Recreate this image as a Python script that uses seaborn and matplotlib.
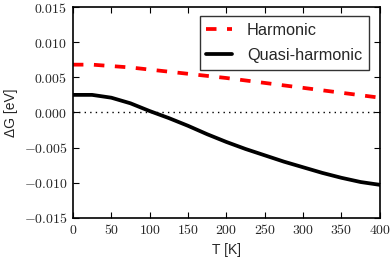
"""Free energy difference vs temperature: harmonic vs quasi-harmonic."""

import matplotlib

matplotlib.use("Agg")
import matplotlib.pyplot as plt
import pandas as pd
import seaborn as sns
from matplotlib.ticker import FuncFormatter

temps = [0, 25, 50, 75, 100, 125, 150, 175, 200, 225, 250, 275, 300, 325, 350, 375, 400]
harmonic = [0.0068, 0.0068, 0.0066, 0.0064, 0.0061, 0.0058, 0.0055, 0.0052, 0.0049,
            0.00455, 0.0042, 0.00385, 0.0035, 0.00315, 0.0028, 0.00245, 0.0021]
quasi_harmonic = [0.0025, 0.0025, 0.0021, 0.0013, 0.0002, -0.0008, -0.0019, -0.0031, -0.0042,
                  -0.0052, -0.0061, -0.0070, -0.0078, -0.0086, -0.0093, -0.0099, -0.0103]
series_names = ["Harmonic", "Quasi-harmonic"]
x_ticks = [0, 50, 100, 150, 200, 250, 300, 350, 400]
y_ticks = [-0.015, -0.010, -0.005, 0.000, 0.005, 0.010, 0.015]

df = pd.DataFrame({"T": temps, series_names[0]: harmonic, series_names[1]: quasi_harmonic})
long_df = df.melt(id_vars="T", var_name="model", value_name="dG")

sns.set_style("ticks")
plt.rcParams["font.family"] = ["Liberation Sans", "DejaVu Sans"]
plt.rcParams["mathtext.fontset"] = "cm"
plt.rcParams["xtick.direction"] = "in"
plt.rcParams["ytick.direction"] = "in"

fig = plt.figure(figsize=(3.92, 2.6), dpi=100)
ax = fig.add_axes([0.186, 0.162, 0.783, 0.811])

ax.axhline(0, color="black", linestyle=(0, (1, 3)), linewidth=1.0)
sns.lineplot(
    data=long_df, x="T", y="dG", hue="model", style="model",
    palette={"Harmonic": "#ff0000", "Quasi-harmonic": "black"},
    dashes={"Harmonic": (2.8, 2.8), "Quasi-harmonic": ""},
    linewidth=2.7, ax=ax,
)

ax.set_xlim(0, 400)
ax.set_ylim(-0.015, 0.015)
ax.set_xticks(x_ticks)
ax.set_yticks(y_ticks)
ax.xaxis.set_major_formatter(FuncFormatter(lambda v, _: f"${v:.0f}$"))
ax.yaxis.set_major_formatter(FuncFormatter(lambda v, _: f"${v:.3f}$".replace("-0.000", "0.000")))
ax.tick_params(axis="both", which="major", labelsize=10, length=4, width=0.8,
               top=True, right=True, color="black", pad=4)
for spine in ax.spines.values():
    spine.set_linewidth(1.2)
    spine.set_color("black")

ax.set_xlabel("T [K]", fontsize=10)
ax.set_ylabel("ΔG [eV]", fontsize=10)

leg = ax.legend(loc="upper right", bbox_to_anchor=(0.98, 0.98), fontsize=11.7, frameon=True,
                fancybox=False, edgecolor="black", handlelength=1.6, handletextpad=0.9,
                borderpad=0.4, labelspacing=0.65, borderaxespad=0.3)
leg.get_frame().set_linewidth(1.0)
leg.set_title(None)

fig.savefig("out.png", dpi=100)
plt.close(fig)
